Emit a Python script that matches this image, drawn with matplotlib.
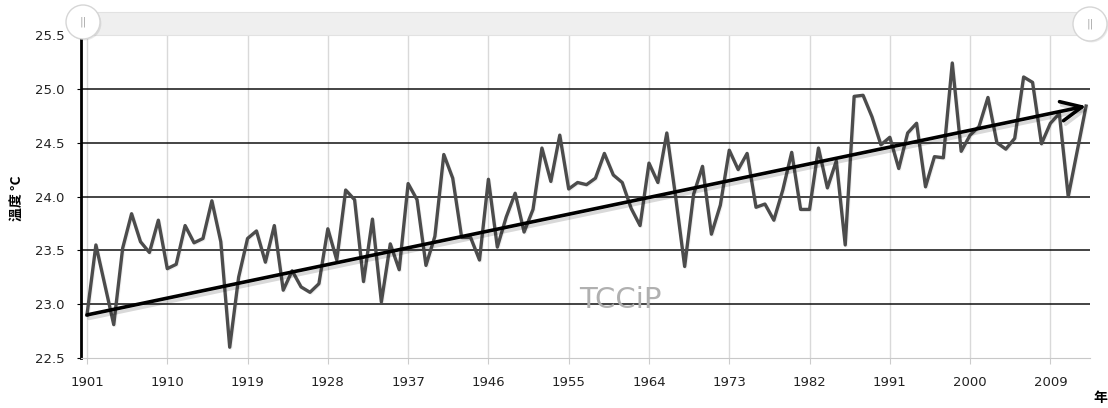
import numpy as np
import matplotlib.pyplot as plt
from matplotlib.patches import Rectangle, Ellipse
import matplotlib.patheffects as pe

# annual mean temperature, 1901-2013
years = np.arange(1901, 2014)
temps = [
    22.90, 23.55, 23.18, 22.81, 23.52, 23.84, 23.58, 23.48, 23.78, 23.33,  # 1901-1910
    23.37, 23.73, 23.57, 23.61, 23.96, 23.58, 22.60, 23.25, 23.61, 23.68,  # 1911-1920
    23.39, 23.73, 23.13, 23.31, 23.16, 23.11, 23.19, 23.70, 23.41, 24.06,  # 1921-1930
    23.97, 23.21, 23.79, 23.02, 23.56, 23.32, 24.12, 23.97, 23.36, 23.63,  # 1931-1940
    24.39, 24.17, 23.62, 23.62, 23.41, 24.16, 23.53, 23.81, 24.03, 23.67,  # 1941-1950
    23.88, 24.45, 24.14, 24.57, 24.07, 24.13, 24.11, 24.17, 24.40, 24.20,  # 1951-1960
    24.13, 23.89, 23.73, 24.31, 24.13, 24.59, 23.99, 23.35, 24.02, 24.28,  # 1961-1970
    23.65, 23.92, 24.43, 24.25, 24.40, 23.90, 23.93, 23.78, 24.06, 24.41,  # 1971-1980
    23.88, 23.88, 24.45, 24.08, 24.33, 23.55, 24.93, 24.94, 24.74, 24.48,  # 1981-1990
    24.55, 24.26, 24.59, 24.68, 24.09, 24.37, 24.36, 25.24, 24.42, 24.57,  # 1991-2000
    24.65, 24.92, 24.50, 24.44, 24.54, 25.11, 25.06, 24.49, 24.68, 24.77,  # 2001-2010
    24.00, 24.42, 24.84,                                                   # 2011-2013
]
trend_years = [1901, 2013]
trend_vals = [22.90, 24.84]

xticks = list(range(1901, 2010, 9))
yticks = [22.5, 23.0, 23.5, 24.0, 24.5, 25.0, 25.5]

W, H = 1108, 408
fig = plt.figure(figsize=(W / 100, H / 100), dpi=100)
ax = fig.add_axes([81 / W, 1 - 358 / H, (1090 - 81) / W, (358 - 35) / H])

ax.set_xlim(1900.33, 2013.44)
ax.set_ylim(22.5, 25.5)

# grid
for x in xticks:
    ax.axvline(x, color='#d9d9d9', lw=1, zorder=0)
for y in yticks[1:-1]:
    ax.axhline(y, color='#111111', lw=1.1, zorder=1)

ax.plot(years, temps, color='#4c4c4c', lw=2.4, zorder=3,
        path_effects=[pe.SimpleLineShadow(offset=(0.7, -0.7), alpha=0.06), pe.Normal()])

ax.annotate('', xy=(trend_years[1], trend_vals[1]), xytext=(trend_years[0], trend_vals[0]),
            arrowprops=dict(arrowstyle='->,head_length=1.5,head_width=0.7', color='black',
                            lw=2.6, shrinkA=0, shrinkB=0,
                            path_effects=[pe.SimpleLineShadow(offset=(1.5, -2.5), alpha=0.15),
                                          pe.Normal()]),
            zorder=4)

ax.set_xticks(xticks)
ax.set_yticks(yticks)
ax.set_yticklabels([f'{v:.1f}' for v in yticks])
ax.tick_params(axis='x', length=4, color='#cccccc', labelsize=9.5, labelcolor='#222222', pad=9)
ax.tick_params(axis='y', length=3, color='black', labelsize=9.5, labelcolor='#222222', pad=9)

for s in ['top', 'right']:
    ax.spines[s].set_visible(False)
ax.spines['bottom'].set_color('#c8c8c8')
ax.spines['left'].set_color('black')
ax.spines['left'].set_linewidth(2)

# watermark
ax.text((620 - 81) / 1009, 0.18, 'TCCiP', transform=ax.transAxes, ha='center', va='center',
        fontsize=21, color='#b0b0b0', zorder=2)

fig.text(18 / W, 1 - 198 / H, '溫度 °C', rotation=90, ha='center', va='center',
         fontsize=10, fontweight='bold', family=['Noto Sans CJK TC', 'DejaVu Sans'])
fig.text(1100 / W, 1 - 398 / H, '年', ha='center', va='center',
         fontsize=10, fontweight='bold', family=['Noto Sans CJK TC', 'DejaVu Sans'])

# navigator bar on top
fig.patches.append(Rectangle((83 / W, 1 - 35 / H), (1090 - 83) / W, 23 / H,
                             transform=fig.transFigure, fc='#efefef', ec='#e2e2e2', lw=0.8))
for cx, cy in [(83, 22), (1090, 24)]:
    fig.patches.append(Ellipse((cx / W, 1 - cy / H), 34 / W, 34 / H, transform=fig.transFigure,
                               fc='white', ec='#d6d6d6', lw=1,
                               path_effects=[pe.SimplePatchShadow(offset=(1, -1), alpha=0.12),
                                             pe.Normal()]))
    fig.text(cx / W, 1 - cy / H, '||', ha='center', va='center', fontsize=8, color='#aaaaaa')

fig.savefig('out.png', dpi=100)
